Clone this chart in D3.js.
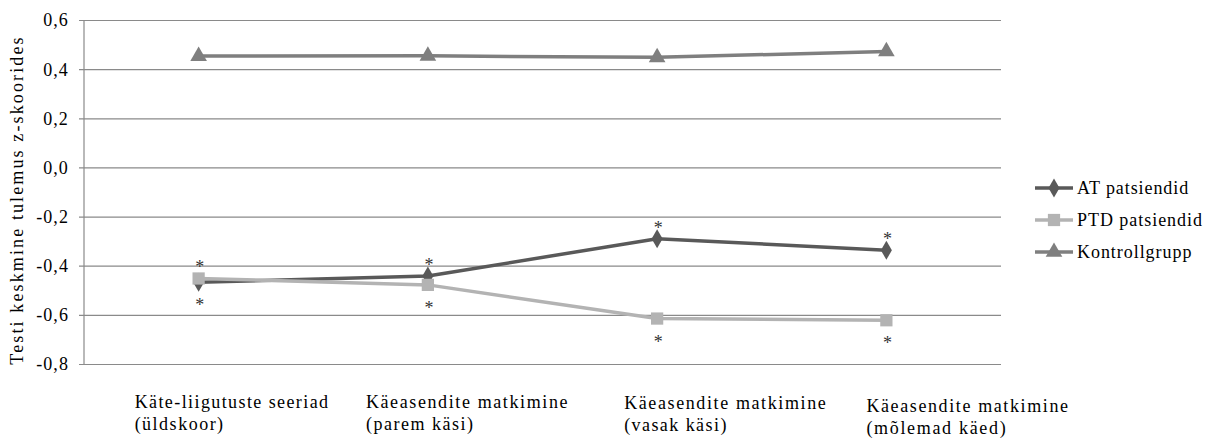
<!DOCTYPE html>
<html>
<head>
<meta charset="utf-8">
<script src="https://cdn.jsdelivr.net/npm/d3@7"></script>
<style>
  html, body { margin: 0; padding: 0; background: #fff; }
  svg { display: block; }
</style>
</head>
<body>
<svg id="chart" width="1217" height="439"></svg>
<script>
// ---- data ----
const categories = [
  ["Käte-liigutuste seeriad", "(üldskoor)"],
  ["Käeasendite matkimine", "(parem käsi)"],
  ["Käeasendite matkimine", "(vasak käsi)"],
  ["Käeasendite matkimine", "(mõlemad käed)"]
];
const seriesNames = ["AT patsiendid", "PTD patsiendid", "Kontrollgrupp"];
const atValues = [-0.467, -0.442, -0.29, -0.337];
const ptdValues = [-0.452, -0.478, -0.615, -0.622];
const kontrollValues = [0.453, 0.454, 0.448, 0.472];
// significance marks: where the asterisk is drawn ("above"/"below"/null)
const atStars = ["below", "above", "above", "above"];
const ptdStars = ["above", "below", "below", "below"];
const kontrollStars = [null, null, null, null];
const yTicks = [-0.8, -0.6, -0.4, -0.2, 0.0, 0.2, 0.4, 0.6];
const yTitle = "Testi keskmine tulemus z-skoorides";

// ---- layout ----
const FONT = "'Liberation Serif', Tinos, 'Times New Roman', serif";
const plot = { left: 84, right: 1001, top: 20, bottom: 364 };
const labelDx = [-64, -62, -33, -20];
const labelDy = [0, 0, 1, 4];
const colors = ["#595959", "#b3b3b3", "#7f7f7f"];
const symbols = [d3.symbolDiamond, d3.symbolSquare, d3.symbolTriangle];
const symbolSizes = [105, 150, 120];

const svg = d3.select("#chart");
const x = d3.scaleBand().domain(d3.range(categories.length)).range([plot.left, plot.right]);
const cx = i => x(i) + x.bandwidth() / 2;
const y = d3.scaleLinear().domain([-0.8, 0.6]).range([plot.bottom, plot.top]);

function stretch(sel, f) {
  sel.each(function () {
    const w = this.getComputedTextLength();
    const n = this.textContent.length;
    d3.select(this).style("letter-spacing", (w * (f - 1) / n).toFixed(2) + "px");
  });
}
function txt(sel, size) {
  return sel.style("font-family", FONT).style("font-size", size + "px").attr("fill", "#000");
}

// gridlines + ticks
const yAxis = d3.axisLeft(y).tickValues(yTicks)
  .tickSize(-(plot.right - plot.left)).tickPadding(15)
  .tickFormat(d => d3.format(".1f")(d).replace(".", ",").replace("−", "-"));
const ga = svg.append("g").attr("transform", `translate(${plot.left},0)`).call(yAxis);
ga.attr("font-family", null);
ga.select(".domain").remove();
ga.selectAll(".tick line").attr("stroke", "#8a8a8a").attr("stroke-width", 1.2).attr("x1", -5);
txt(ga.selectAll(".tick text"), 18).attr("dy", "0.33em");
stretch(ga.selectAll(".tick text"), 1.15);
svg.append("line").attr("x1", plot.left).attr("x2", plot.left)
  .attr("y1", plot.top).attr("y2", plot.bottom).attr("stroke", "#8a8a8a").attr("stroke-width", 1.2);

// y title
const yt = txt(svg.append("text"), 18)
  .attr("transform", `translate(23,${(plot.top + plot.bottom) / 2 + 8}) rotate(-90)`)
  .attr("text-anchor", "middle").text(yTitle);
stretch(yt, 1.28);

// category labels
categories.forEach((lines, i) => {
  lines.forEach((t, j) => {
    const tx = txt(svg.append("text"), 18).attr("x", cx(i) + labelDx[i]).attr("y", 408 + labelDy[i] + j * 22).text(t);
    stretch(tx, 1.2);
  });
});

// series
const allSeries = [atValues, ptdValues, kontrollValues];
const allStars = [atStars, ptdStars, kontrollStars];
const line = d3.line().x((d, i) => cx(i)).y(d => y(d));
[0, 1, 2].forEach(s => {
  const vals = allSeries[s];
  svg.append("path").datum(vals).attr("d", line).attr("fill", "none")
    .attr("stroke", colors[s]).attr("stroke-width", 3.5).attr("stroke-linejoin", "round");
  svg.selectAll(null).data(vals).enter().append("path")
    .attr("transform", (d, i) => `translate(${cx(i)},${y(d)})`)
    .attr("d", d3.symbol().type(symbols[s]).size(symbolSizes[s])).attr("fill", colors[s]);
  vals.forEach((v, i) => {
    const st = allStars[s][i];
    if (!st) return;
    txt(svg.append("text"), 18).attr("x", cx(i) + 1).attr("y", y(v) + (st === "above" ? -5 : 29))
      .attr("text-anchor", "middle").attr("fill", "#333").text("*");
  });
});

// legend
seriesNames.forEach((n, s) => {
  const ly = 188 + s * 32;
  svg.append("line").attr("x1", 1035).attr("x2", 1073).attr("y1", ly).attr("y2", ly)
    .attr("stroke", colors[s]).attr("stroke-width", 3.5);
  svg.append("path").attr("transform", `translate(1054,${ly})`)
    .attr("d", d3.symbol().type(symbols[s]).size(symbolSizes[s])).attr("fill", colors[s]);
  const lt = txt(svg.append("text"), 18).attr("x", 1077).attr("y", ly + 6).text(n);
  stretch(lt, 1.12);
});
</script>
</body>
</html>
